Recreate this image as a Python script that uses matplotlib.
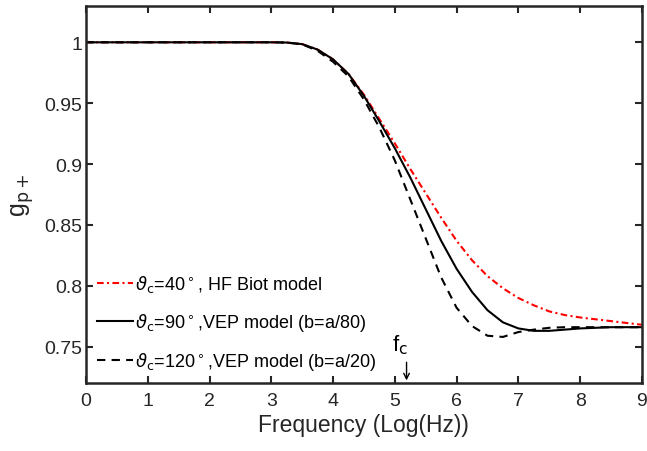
import matplotlib
matplotlib.use("Agg")
import matplotlib.pyplot as plt

plt.rcParams['font.family'] = ['Liberation Sans', 'DejaVu Sans']
plt.rcParams['mathtext.fontset'] = 'dejavusans'

freq = [0, 0.5, 1, 1.5, 2, 2.5, 3, 3.25, 3.5, 3.75, 4.0, 4.25, 4.5, 4.75,
        5.0, 5.25, 5.5, 5.75, 6.0, 6.25, 6.5, 6.75, 7.0, 7.25, 7.5, 7.75,
        8.0, 8.5, 9.0]

g_biot40 = [1, 1, 1, 1, 1, 1, 1, 0.9998, 0.9985, 0.994, 0.986, 0.974, 0.957,
            0.937, 0.917, 0.896, 0.876, 0.856, 0.837, 0.821, 0.808, 0.798,
            0.790, 0.784, 0.779, 0.776, 0.774, 0.771, 0.768]

g_vep90 = [1, 1, 1, 1, 1, 1, 1, 0.9998, 0.9985, 0.994, 0.986, 0.974, 0.956,
           0.935, 0.913, 0.889, 0.863, 0.837, 0.814, 0.795, 0.780, 0.770,
           0.765, 0.763, 0.763, 0.764, 0.765, 0.766, 0.766]

g_vep120 = [1, 1, 1, 1, 1, 1, 1, 0.9998, 0.9983, 0.993, 0.984, 0.972, 0.953,
            0.930, 0.903, 0.871, 0.839, 0.807, 0.782, 0.767, 0.759, 0.758,
            0.762, 0.764, 0.7655, 0.766, 0.766, 0.766, 0.766]

labels = [r'$\vartheta_{\rm c}$=40$^\circ$, HF Biot model',
          r'$\vartheta_{\rm c}$=90$^\circ$,VEP model (b=a/80)',
          r'$\vartheta_{\rm c}$=120$^\circ$,VEP model (b=a/20)']

xticks = [0, 1, 2, 3, 4, 5, 6, 7, 8, 9]
yticks = [0.75, 0.8, 0.85, 0.9, 0.95, 1.0]
ytick_labels = ['0.75', '0.8', '0.85', '0.9', '0.95', '1']
f_c = 5.19

fig = plt.figure(figsize=(6.47, 4.52), dpi=100)
ax = fig.add_axes([0.133, 0.150, 0.859, 0.835])

ax.plot(freq, g_biot40, color='#ff0000', linestyle=(0, (3.2, 1.6, 1.0, 1.6)), lw=1.5, label=labels[0])
ax.plot(freq, g_vep90, color='black', linestyle='-', lw=1.5, label=labels[1])
ax.plot(freq, g_vep120, color='black', linestyle=(0, (4, 3)), lw=1.5, label=labels[2])

ax.set_xlim(0, 9)
ax.set_ylim(0.72, 1.03)
ax.set_xticks(xticks)
ax.set_yticks(yticks)
ax.set_yticklabels(ytick_labels)

for s in ax.spines.values():
    s.set_linewidth(1.8)
    s.set_color('#262626')
ax.tick_params(direction='in', length=5, width=1.5, colors='#262626',
               labelsize=14, top=True, right=True)
ax.tick_params(axis='x', pad=6)
ax.tick_params(axis='y', pad=3)
for lab in ax.get_xticklabels() + ax.get_yticklabels():
    lab.set_color('#262626')

ax.set_xlabel('Frequency (Log(Hz))', fontsize=16.5, color='#262626', labelpad=3)
ax.set_ylabel(r'g$_{\rm p+}$', fontsize=18, color='#262626', labelpad=6)

ax.annotate('', xy=(f_c, 0.72), xytext=(f_c, 0.7395),
            arrowprops=dict(arrowstyle='->', color='black', lw=1.0))
ax.text(f_c - 0.1, 0.752, r'f$_{\rm c}$', fontsize=16, ha='center', va='center')

leg = ax.legend(loc='lower left', bbox_to_anchor=(0.0, 0.0), frameon=False,
                fontsize=13, handlelength=2.0, handletextpad=0.1,
                labelspacing=0.95, borderaxespad=0.2)

fig.savefig('out.png', dpi=100)
